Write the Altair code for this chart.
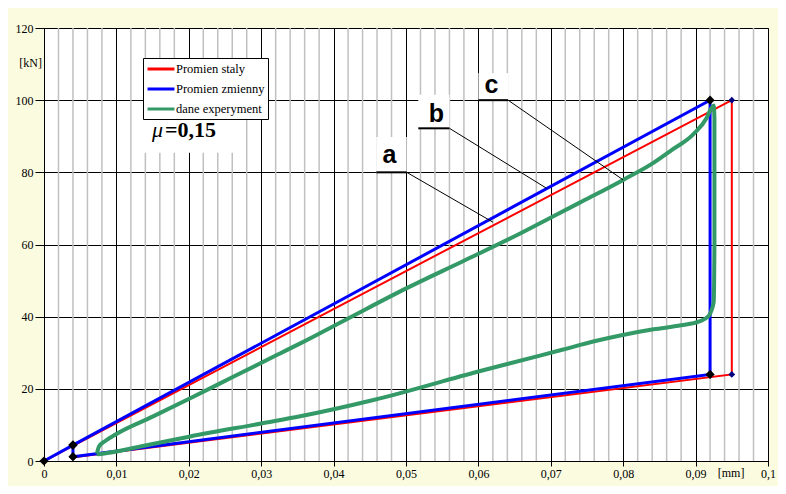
import altair as alt
import pandas as pd

# ---------------- data ----------------
series_names = ["Promien staly", "Promien zmienny", "dane experyment"]
series_colors = ["#FF0000", "#0000FF", "#339966"]

red_x = [0.0, 0.004, 0.095, 0.095, 0.004, 0.004]
red_y = [0.0, 4.2, 100.0, 24.0, 1.0, 4.2]

blue_x = [0.0, 0.004, 0.092, 0.092, 0.004, 0.004]
blue_y = [0.0, 4.4, 100.0, 24.0, 1.2, 4.4]

green_x = [0.0073, 0.0076, 0.0085, 0.0100, 0.0150, 0.0202, 0.0260, 0.0326, 0.0354,
           0.0420, 0.0501, 0.0580, 0.0657, 0.0685, 0.0740, 0.0800, 0.0840, 0.0865,
           0.0897, 0.0915, 0.0921, 0.0925, 0.0926, 0.0926, 0.0925, 0.0918, 0.0905,
           0.0880, 0.0842, 0.0796, 0.0760, 0.0717, 0.0685, 0.0600, 0.0455, 0.0354,
           0.0300, 0.0202, 0.0133, 0.0087, 0.0075, 0.0073]
green_y = [2.0, 4.0, 5.6, 7.5, 12.3, 17.4, 23.2, 29.8, 32.6,
           39.5, 47.9, 55.5, 63.0, 65.9, 71.6, 77.9, 82.4, 85.9,
           90.6, 95.0, 97.5, 98.5, 95.0, 60.0, 44.0, 40.2, 38.7,
           37.6, 36.5, 34.8, 33.2, 30.9, 29.2, 24.8, 16.9, 12.4,
           10.4, 6.8, 4.0, 2.2, 1.9, 2.0]

x_major = [0.0, 0.01, 0.02, 0.03, 0.04, 0.05, 0.06, 0.07, 0.08, 0.09, 0.1]
x_minor = [0.002, 0.004, 0.006, 0.008, 0.012, 0.014, 0.016, 0.018,
           0.022, 0.024, 0.026, 0.028, 0.032, 0.034, 0.036, 0.038,
           0.042, 0.044, 0.046, 0.048, 0.052, 0.054, 0.056, 0.058,
           0.062, 0.064, 0.066, 0.068, 0.072, 0.074, 0.076, 0.078,
           0.082, 0.084, 0.086, 0.088, 0.092, 0.094, 0.096, 0.098]
y_major = [0, 20, 40, 60, 80, 100, 120]

# annotations a, b, c
ann_text = ["a", "b", "c"]
ann_x = [0.0477, 0.0542, 0.0618]
ann_y = [82.6, 94.0, 101.9]
under_x = [0.0459, 0.0517, 0.0600]
under_x2 = [0.0501, 0.0560, 0.0641]
under_y = [80.0, 92.2, 100.0]
ptr_x2 = [0.0620, 0.0694, 0.0800]
ptr_y2 = [66.2, 75.6, 77.9]
box_y2 = [89.8, 101.5, 107.5]

# ---------------- frames ----------------
def frame(xs, ys, name):
    return pd.DataFrame({"x": xs, "y": ys, "series": name, "i": list(range(len(xs)))})

red_df = frame(red_x, red_y, series_names[0])
blue_df = frame(blue_x, blue_y, series_names[1])
green_df = frame(green_x, green_y, series_names[2])

ann_df = pd.DataFrame({"t": ann_text, "x": ann_x, "y": ann_y, "ux": under_x, "ux2": under_x2,
                       "uy": under_y, "px": ptr_x2, "py": ptr_y2, "by": box_y2})

SERIF = "Liberation Serif"
xscale = alt.Scale(domain=[0, 0.1], nice=False, zero=False)
yscale = alt.Scale(domain=[0, 120], nice=False)

xaxis = alt.Axis(values=x_major, grid=True, gridColor="#000000", gridWidth=1,
                 domainColor="#000000", tickColor="#000000", tickSize=5,
                 labelFont=SERIF, labelFontSize=12, labelColor="#000000", labelPadding=2,
                 labelFlush=False, labelOverlap=False,
                 labelExpr="replace(format(datum.value, '.2~f'), '.', ',')", title=None)
yaxis = alt.Axis(values=y_major, grid=True, gridColor="#000000", gridWidth=1,
                 domainColor="#000000", tickColor="#000000", tickSize=9,
                 labelFont=SERIF, labelFontSize=12, labelColor="#000000", labelPadding=2,
                 labelFlush=False, labelOverlap=False, title=None)

X = alt.X("x:Q", scale=xscale, axis=xaxis)
Y = alt.Y("y:Q", scale=yscale, axis=yaxis)

legend = alt.Legend(title=None, orient="none", legendX=99, legendY=30,
                    fillColor="#FFFFFF", strokeColor="#000000", padding=3,
                    labelFont=SERIF, labelFontSize=12.5, labelColor="#000000",
                    symbolType="M-2.2,0H2.2", symbolSize=150, symbolStrokeWidth=3,
                    symbolOffset=7, rowPadding=5, labelOffset=7)
color = alt.Color("series:N", scale=alt.Scale(domain=series_names, range=series_colors),
                  legend=legend)

minor = alt.Chart(pd.DataFrame({"x": x_minor})).mark_rule(
    color="#C0C0C0", strokeWidth=1.5).encode(x=X)

boxes = alt.Chart(ann_df).mark_rect(color="#FFFFFF").encode(
    x=alt.X("ux:Q", scale=xscale, axis=xaxis), x2="ux2:Q",
    y=alt.Y("uy:Q", scale=yscale, axis=yaxis), y2="by:Q")

mu_box = alt.Chart(pd.DataFrame({"x": [0.0127], "x2": [0.0278], "y": [85.4], "y2": [95.9]})
                   ).mark_rect(color="#FFFFFF").encode(x=X, x2="x2:Q", y=Y, y2="y2:Q")

red_line = alt.Chart(red_df).mark_line(strokeWidth=2).encode(x=X, y=Y, order="i:Q", color=color)
blue_line = alt.Chart(blue_df).mark_line(strokeWidth=3).encode(x=X, y=Y, order="i:Q", color=color)
green_line = alt.Chart(green_df).mark_line(strokeWidth=4, strokeJoin="round",
                                           interpolate="monotone").encode(
    x=X, y=Y, order="i:Q", color=color)

red_pts = alt.Chart(red_df).mark_point(shape="diamond", filled=True, size=45, opacity=1,
                                       color="#000080").encode(x=X, y=Y)
blue_pts = alt.Chart(blue_df).mark_point(shape="diamond", filled=True, size=85, opacity=1,
                                         color="#000000").encode(x=X, y=Y)

underlines = alt.Chart(ann_df).mark_rule(color="#000000", strokeWidth=2).encode(
    x=alt.X("ux:Q", scale=xscale, axis=xaxis), x2="ux2:Q",
    y=alt.Y("uy:Q", scale=yscale, axis=yaxis))
pointers = alt.Chart(ann_df).mark_rule(color="#000000", strokeWidth=1).encode(
    x=alt.X("ux2:Q", scale=xscale, axis=xaxis), x2="px:Q",
    y=alt.Y("uy:Q", scale=yscale, axis=yaxis), y2="py:Q")
letters = alt.Chart(ann_df).mark_text(font="Liberation Sans", fontWeight="bold", fontSize=25,
                                      align="center", baseline="alphabetic",
                                      color="#000000").encode(x=X, y=Y, text="t:N")

mu_sym = alt.Chart(pd.DataFrame({"x": [0.0149], "y": [89.9], "t": ["μ"]})).mark_text(
    font=SERIF, fontStyle="italic", fontSize=22, align="left", baseline="alphabetic",
    color="#000000").encode(x=X, y=Y, text="t:N")
mu_val = alt.Chart(pd.DataFrame({"x": [0.0167], "y": [89.9], "t": ["=0,15"]})).mark_text(
    font=SERIF, fontWeight="bold", fontSize=22, align="left", baseline="alphabetic",
    color="#000000").encode(x=X, y=Y, text="t:N")

kn = alt.Chart(pd.DataFrame({"x": [0.0], "y": [110.2], "t": ["[kN]"]})).mark_text(
    font=SERIF, fontSize=12, align="right", baseline="middle", dx=-2,
    color="#000000").encode(x=X, y=Y, text="t:N")
mm = alt.Chart(pd.DataFrame({"x": [0.0949], "y": [0.0], "t": ["[mm]"]})).mark_text(
    font=SERIF, fontSize=12, align="center", baseline="top", dy=7,
    color="#000000").encode(x=X, y=Y, text="t:N")

chart = alt.layer(
    minor, boxes, mu_box, red_line, blue_line, green_line, red_pts, blue_pts,
    underlines, pointers, letters, mu_sym, mu_val, kn, mm
).properties(
    width=724, height=433,
    autosize=alt.AutoSizeParams(type="none"),
    padding={"left": 36, "top": 20, "right": 10, "bottom": 25},
    background="#FBFBDF",
).configure_view(fill="#FFFFFF", stroke="#808080", strokeWidth=1)

chart.save("out.html", embed_options={"renderer": "svg", "actions": False})
